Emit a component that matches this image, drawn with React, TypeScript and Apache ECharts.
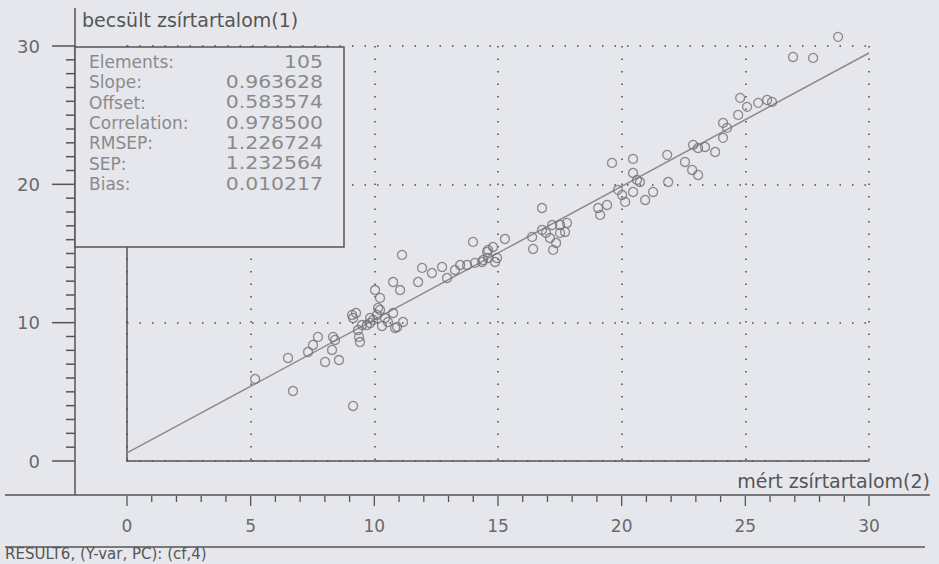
import React, { useEffect, useRef } from "react";
import * as echarts from "echarts";

const measured: number[] = [
  5.18, 6.71, 6.51, 7.32, 7.52, 7.72, 8.01, 8.29, 8.33, 8.41, 8.57, 9.14, 9.10, 9.14, 9.34, 9.38, 9.42, 9.70, 9.83, 9.95,
  10.11, 10.23, 10.03, 10.23, 10.15, 10.31, 10.76, 10.76, 11.04, 11.12, 10.92, 11.16, 10.84, 11.77, 11.93, 12.33, 12.74, 12.94, 13.47, 13.75,
  14.07, 14.36, 14.60, 14.80, 13.99, 14.96, 14.56, 14.40, 15.28, 14.88, 16.38, 16.42, 16.78, 16.78, 17.19, 17.51, 17.79, 17.10, 17.51, 17.71,
  17.23, 19.05, 19.41, 19.13, 19.61, 19.85, 20.14, 20.46, 20.46, 20.46, 20.62, 20.74, 20.95, 21.27, 21.84, 21.88, 22.56, 22.85, 23.09, 22.89,
  23.37, 23.78, 24.10, 24.10, 24.71, 24.79, 25.07, 25.52, 25.88, 26.08, 26.93, 27.74, 28.75, 23.09, 20.02, 9.83, 9.50, 10.43, 10.55, 9.26,
  16.94, 17.35, 14.60, 13.26, 24.26,
];
const estimated: number[] = [
  5.93, 5.06, 7.45, 7.88, 8.39, 8.97, 7.16, 8.03, 8.97, 8.75, 7.30, 3.98, 10.56, 10.34, 9.47, 8.97, 8.60, 9.83, 9.98, 10.20,
  10.56, 10.92, 12.36, 11.79, 11.06, 9.76, 10.70, 12.94, 12.36, 14.90, 9.69, 10.05, 9.62, 12.94, 13.96, 13.59, 14.03, 13.23, 14.17, 14.17,
  14.32, 14.39, 15.26, 15.47, 15.84, 14.68, 15.11, 14.53, 16.05, 14.39, 16.20, 15.33, 18.29, 16.70, 17.06, 17.06, 17.21, 16.12, 16.49, 16.56,
  15.26, 18.29, 18.51, 17.79, 21.55, 19.60, 18.73, 19.45, 20.82, 21.84, 20.32, 20.17, 18.87, 19.45, 22.13, 20.17, 21.62, 21.04, 20.68, 22.85,
  22.70, 22.34, 23.36, 24.44, 25.02, 26.25, 25.60, 25.89, 26.10, 25.96, 29.21, 29.14, 30.66, 22.63, 19.23, 10.34, 9.83, 10.34, 10.05, 10.70,
  16.49, 15.76, 14.68, 13.81, 24.08,
];

const statLabels: string[] = ["Elements:", "Slope:", "Offset:", "Correlation:", "RMSEP:", "SEP:", "Bias:"];
const statValues: string[] = ["105", "0.963628", "0.583574", "0.978500", "1.226724", "1.232564", "0.010217"];
const slope = 0.963628;
const offset = 0.583574;
const axisMin = 0;
const axisMax = 30;
const xStep = 5;
const yStep = 10;
const xMajorTicks: number[] = [0, 5, 10, 15, 20, 25, 30];
const xMinorTicks: number[] = [1, 2, 3, 4, 6, 7, 8, 9, 11, 12, 13, 14, 16, 17, 18, 19, 21, 22, 23, 24, 26, 27, 28, 29];
const yMajorTicks: number[] = [0, 10, 20, 30];
const yMinorTicks: number[] = [
  1, 2, 3, 4, 5, 6, 7, 8, 9, 11, 12, 13, 14, 15, 16, 17, 18, 19, 21, 22, 23, 24, 25, 26, 27, 28, 29,
];

const yTitle = "becsült zsírtartalom(1)";
const xTitle = "mért zsírtartalom(2)";
const footer = "RESULT6, (Y-var, PC): (cf,4)";

const BG = "#e6e7ec";
const DARK = "#555555";
const FONT = "DejaVu Sans";

export default function App() {
  const ref = useRef<HTMLDivElement>(null);
  useEffect(() => {
    document.body.style.margin = "0";
    if (!ref.current) return;
    const chart = echarts.init(ref.current, undefined, { renderer: "svg" });
    const points = measured.map((x, i) => [x, estimated[i]]);
    const fitLine = [
      [axisMin, slope * axisMin + offset],
      [axisMax, slope * axisMax + offset],
    ];
    const dotted = { color: "#4a4a4a", width: 1.5, type: [1.5, 11] as number[] };
    const graphics: any[] = [
      { type: "line", z: 100, shape: { x1: 75, y1: 8, x2: 75, y2: 495 }, style: { stroke: DARK, lineWidth: 1.5 } },
      { type: "line", z: 100, shape: { x1: 5, y1: 495, x2: 930, y2: 495 }, style: { stroke: DARK, lineWidth: 1.5 } },
      { type: "line", z: 100, shape: { x1: 5, y1: 547, x2: 925, y2: 547 }, style: { stroke: DARK, lineWidth: 1.5 } },
      {
        type: "rect", z: 100,
        shape: { x: 75, y: 47, width: 269, height: 200 },
        style: { fill: BG, stroke: DARK, lineWidth: 1.5 },
      },
      {
        type: "text", z: 101, x: 82, y: 20,
        style: { text: yTitle, fill: DARK, font: `19px "${FONT}"`, textAlign: "left", textVerticalAlign: "middle" },
      },
      {
        type: "text", z: 101, x: 930, y: 481,
        style: { text: xTitle, fill: DARK, font: `19px "${FONT}"`, textAlign: "right", textVerticalAlign: "middle" },
      },
      {
        type: "text", z: 101, x: 5, y: 554,
        style: { text: footer, fill: DARK, font: `15px "${FONT}"`, textAlign: "left", textVerticalAlign: "middle" },
      },
    ];
    statLabels.forEach((lab, i) => {
      const y = 62 + i * 20.3;
      graphics.push({
        type: "text", z: 101, x: 89, y,
        style: { text: lab, fill: "#8a8a8a", font: `17px "${FONT}"`, textAlign: "left", textVerticalAlign: "middle" },
      });
      graphics.push({
        type: "text", z: 101, x: 323, y, scaleX: 1.2,
        style: { text: statValues[i], fill: "#8a8a8a", font: `17px "${FONT}"`, textAlign: "right", textVerticalAlign: "middle" },
      });
    });

    // tick marks (value, length) drawn through the main grid's scales
    const X_AXIS_OFFSET = 34; // outer x axis line sits 34px below the plot frame
    const Y_AXIS_OFFSET = 52; // outer y axis line sits 52px left of the plot frame
    const xTickData = xMajorTicks.map((v) => [v, 10]).concat(xMinorTicks.map((v) => [v, 6]));
    const yTickData = yMajorTicks.map((v) => [23, v]).concat(yMinorTicks.map((v) => [9, v]));

    const axisLineStyle = { color: DARK, width: 1.5 };
    const hidden = (gridIndex: number) => ({ type: "value", gridIndex, min: axisMin, max: axisMax, show: false });
    const off = { axisLine: { show: false }, axisTick: { show: false }, splitLine: { show: false } };
    chart.setOption({
      animation: false,
      backgroundColor: BG,
      grid: [
        { left: 127, right: 70, top: 46, bottom: 103 },
        { left: 127, right: 70, top: 495, height: 10 },
        { left: 52, width: 23, top: 46, bottom: 103 },
      ],
      xAxis: [
        {
          type: "value", gridIndex: 0, min: axisMin, max: axisMax, interval: xStep,
          axisLine: { show: true, onZero: false, lineStyle: axisLineStyle },
          axisTick: { show: false }, axisLabel: { show: false },
          splitLine: { show: true, lineStyle: dotted },
        },
        {
          type: "value", gridIndex: 1, min: axisMin, max: axisMax, interval: xStep, position: "bottom",
          ...off,
          axisLabel: { show: true, margin: 12, fontSize: 17, fontFamily: FONT, color: "#6a6a6a" },
        },
        hidden(2),
      ],
      yAxis: [
        {
          type: "value", gridIndex: 0, min: axisMin, max: axisMax, interval: yStep,
          axisLine: { show: true, onZero: false, lineStyle: axisLineStyle },
          axisTick: { show: false }, axisLabel: { show: false },
          splitLine: { show: true, lineStyle: dotted },
        },
        hidden(1),
        {
          type: "value", gridIndex: 2, min: axisMin, max: axisMax, interval: yStep, position: "left",
          ...off,
          axisLabel: { show: true, margin: 12, fontSize: 18, fontFamily: FONT, color: "#6a6a6a" },
        },
      ],
      series: [
        {
          type: "line", xAxisIndex: 0, yAxisIndex: 0, data: fitLine, symbol: "none",
          lineStyle: { color: "#8c8c8c", width: 1.5 }, silent: true, z: 2,
        },
        {
          type: "scatter", xAxisIndex: 0, yAxisIndex: 0, data: points, symbol: "circle", symbolSize: 9,
          clip: false, z: 3,
          itemStyle: { color: "rgba(0,0,0,0)", borderColor: "#707070", borderWidth: 1.3 },
        },
        {
          type: "custom", xAxisIndex: 0, yAxisIndex: 0, clip: false, silent: true, z: 5,
          data: xTickData,
          encode: { x: 0 },
          renderItem: (_p: any, api: any) => {
            const pt = api.coord([api.value(0), axisMin]);
            const y0 = pt[1] + X_AXIS_OFFSET + 1;
            return {
              type: "line",
              shape: { x1: pt[0], y1: y0, x2: pt[0], y2: y0 + api.value(1) },
              style: { stroke: DARK, lineWidth: 1.3 },
            };
          },
        },
        {
          type: "custom", xAxisIndex: 0, yAxisIndex: 0, clip: false, silent: true, z: 5,
          data: yTickData,
          encode: { y: 1 },
          renderItem: (_p: any, api: any) => {
            const pt = api.coord([axisMin, api.value(1)]);
            const x0 = pt[0] - Y_AXIS_OFFSET;
            return {
              type: "line",
              shape: { x1: x0 - api.value(0), y1: pt[1], x2: x0, y2: pt[1] },
              style: { stroke: DARK, lineWidth: 1.5 },
            };
          },
        },
      ],
      graphic: graphics,
    });
    return () => chart.dispose();
  }, []);
  return <div ref={ref} style={{ width: 939, height: 564, background: BG }} />;
}
